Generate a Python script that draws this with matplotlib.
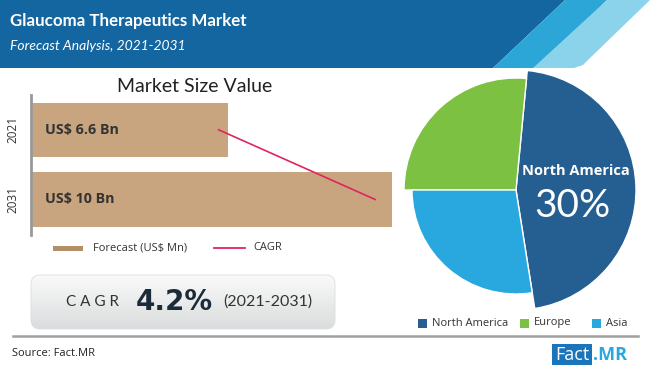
import matplotlib
matplotlib.use("Agg")
import matplotlib.pyplot as plt
import numpy as np
from matplotlib.patches import Polygon, FancyBboxPatch, Rectangle
from matplotlib.lines import Line2D

# ---------------- data ----------------
years = ["2021", "2031"]
market_values = [6.6, 10.0]          # US$ Bn
value_labels = ["US$ 6.6 Bn", "US$ 10 Bn"]
cagr_line_x = [6.4, 9.65]             # CAGR trend line positions on the value axis
regions = ["North America", "Europe", "Asia"]
region_shares = [46, 26.5, 27.5]      # visual slice sizes
region_radii = [1.20, 1.12, 1.04]
highlight_label = "North America"
highlight_pct = "30%"
cagr_text = "4.2%"
cagr_period = "(2021-2031)"

W, H = 650, 369
fig = plt.figure(figsize=(W / 100, H / 100), dpi=100)
FONT = "Lato"

# background axes in pixel coordinates
bg = fig.add_axes([0, 0, 1, 1])
bg.set_xlim(0, W)
bg.set_ylim(H, 0)
bg.axis("off")

# header band
dark = "#13669F"
mid = "#2CA6D6"
light = "#8AD3EA"
bg.add_patch(Polygon([(0, 0), (565, 0), (493, 68), (0, 68)], closed=True, fc=dark, ec="none"))
bg.add_patch(Polygon([(565, 0), (607, 0), (547, 60), (541, 65), (533, 68), (493, 68)],
                     closed=True, fc=mid, ec="none"))
bg.add_patch(Polygon([(607, 0), (650, 0), (589, 59), (583, 65), (574, 68), (533, 68)],
                     closed=True, fc=light, ec="none"))
bg.text(10, 21, "Glaucoma Therapeutics Market", color="white", fontsize=12.2,
        fontweight="bold", family=FONT, va="center", ha="left")
bg.text(10, 46, "Forecast Analysis, 2021-2031", color="white", fontsize=10,
        fontstyle="italic", family=FONT, va="center", ha="left")

# bar chart title
bg.text(195, 86, "Market Size Value", fontsize=14, family=FONT, color="#222222",
        va="center", ha="center")

# ---------------- bar chart ----------------
bar_color = "#C8A57E"
ax = fig.add_axes([31 / W, 1 - 235 / H, 361 / W, 140 / H])
ypos = np.arange(len(years))
ax.barh(ypos, market_values, height=0.78, color=bar_color, left=0)
ax.plot(cagr_line_x, ypos, color="#E0245E", lw=1.2)
ax.set_xlim(2.5, 10.0)
ax.set_ylim(1.51, -0.5)
for i, lab in enumerate(value_labels):
    ax.text(0.04, i, lab, transform=ax.get_yaxis_transform(), fontsize=10.3,
            fontweight="bold", family="Open Sans", color="#333333", va="center", ha="left")
ax.set_yticks(ypos)
ax.set_yticklabels(years, rotation=90, va="center", fontsize=8.5, color="#333333", family="Open Sans")
ax.tick_params(axis="y", length=0, pad=8)
ax.set_xticks([])
for s in ["top", "right", "bottom"]:
    ax.spines[s].set_visible(False)
ax.spines["left"].set_color("#999999")
ax.spines["left"].set_linewidth(2)
ax.patch.set_alpha(0)

# bar legend
bg.add_patch(Rectangle((53, 245.5), 30, 5, fc="#B38F68", ec="none"))
bg.text(93, 248, "Forecast (US$ Mn)", fontsize=8, family="Open Sans", color="#333333", va="center")
bg.add_line(Line2D([214, 245], [248, 248], color="#E0245E", lw=1.3))
bg.text(253, 248, "CAGR", fontsize=8, family="Open Sans", color="#333333", va="center")

# ---------------- CAGR box ----------------
box = FancyBboxPatch((31, 275), 304, 54, boxstyle="round,pad=0,rounding_size=9",
                     fc="none", ec="#dddddd", lw=0.6)
bg.add_patch(box)
grad = np.linspace(1, 0, 256).reshape(-1, 1)
im = bg.imshow(grad, extent=[31, 335, 329, 275], cmap=matplotlib.colors.LinearSegmentedColormap.from_list(
    "g", ["#DADCDD", "#FAFAFA"]), aspect="auto", zorder=0.5)
im.set_clip_path(box)
bg.set_xlim(0, W)
bg.set_ylim(H, 0)

# separator line and source
bg.add_line(Line2D([13, 638], [336, 336], color="#A0A0A0", lw=1.8))
bg.text(12, 354, "Source: Fact.MR", fontsize=8, family="Open Sans", color="#222222", va="center")

# logo
bg.add_patch(Rectangle((552, 344), 40, 21, fc="#1A75BB", ec="none"))
bg.text(572, 355, "Fact", fontsize=13, family="Open Sans", color="white", va="center", ha="center")
bg.text(593, 355, ".MR", fontsize=13, family="Open Sans", fontweight="bold", color="#29A8E0",
        va="center", ha="left")

# ---------------- pie ----------------
pie_colors = ["#255E91", "#7DC142", "#29A8E0"]
cx, cy, size = 516, 190, 260
pax = fig.add_axes([(cx - size / 2) / W, 1 - (cy + size / 2) / H, size / W, size / H])
wedges, _ = pax.pie(region_shares, colors=pie_colors, startangle=-81, counterclock=True,
                    radius=1.0, wedgeprops=dict(edgecolor="white", linewidth=1.0))
for w, r in zip(wedges, region_radii):
    w.set_radius(r)
pax.set_xlim(-1.3, 1.3)
pax.set_ylim(-1.3, 1.3)
pax.set_aspect("equal")
pax.axis("off")

# overlay for top-most text
top = fig.add_axes([0, 0, 1, 1])
top.set_xlim(0, W)
top.set_ylim(H, 0)
top.axis("off")
top.patch.set_alpha(0)

top.text(576, 171, highlight_label, fontsize=10.5, fontweight="bold", family="Open Sans",
         color="white", va="center", ha="center")
top.text(572, 206, highlight_pct, fontsize=28, family=FONT,
         color="white", va="center", ha="center")

top.text(92, 302, "C A G R", fontsize=11, family=FONT, color="#333333",
         va="center", ha="center")
top.text(174, 302, cagr_text, fontsize=20, family="DejaVu Sans",
         fontweight="bold", color="#1C2B3A", va="center", ha="center")
top.text(268, 302, cagr_period, fontsize=11.5, family=FONT, color="#333333",
         va="center", ha="center")

# pie legend
leg_x = [418, 520, 592]
for x0, lab, c in zip(leg_x, regions, pie_colors):
    top.add_patch(Rectangle((x0, 318.5), 9, 9, fc=c, ec="none"))
    top.text(x0 + 14, 323, lab, fontsize=8, family="Open Sans", color="#333333", va="center")

fig.savefig("out.png", dpi=100)
